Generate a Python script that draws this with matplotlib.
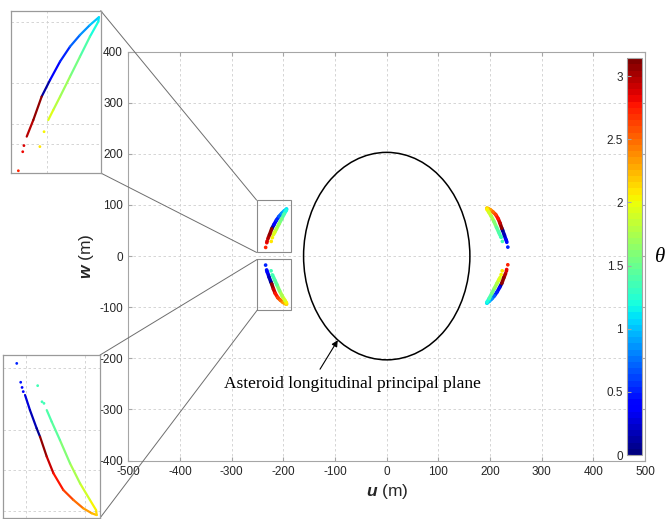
import numpy as np
import matplotlib
matplotlib.use('Agg')
import matplotlib.pyplot as plt
from matplotlib.collections import LineCollection
from matplotlib.patches import Ellipse, Rectangle, ConnectionPatch
from matplotlib.colors import Normalize
from matplotlib.colorbar import ColorbarBase

plt.rcParams['font.family'] = ['Liberation Sans', 'DejaVu Sans']
plt.rcParams['mathtext.fontset'] = 'custom'
plt.rcParams['mathtext.bf'] = 'Liberation Sans:style=italic:weight=bold'
plt.rcParams['axes.unicode_minus'] = False

# ---------------- data ----------------
X_TICKS = [-500, -400, -300, -200, -100, 0, 100, 200, 300, 400, 500]
Y_TICKS = [-400, -300, -200, -100, 0, 100, 200, 300, 400]
CB_TICKS = [0, 0.5, 1, 1.5, 2, 2.5, 3]
CB_TICK_LABELS = ['0', '0.5', '1', '1.5', '2', '2.5', '3']
THETA_MAX = np.pi

# asteroid principal plane ellipse (semi-axes, m)
AST_A = 161
AST_B = 203

# upper-left arc
UL1_U = [-222.7, -218.5, -213.5, -208.5, -203.5, -198.5, -194.0, -194.3, -198.5, -203.5, -208.5, -213.5, -216.9, -219.4]
UL1_W = [53.3, 61.4, 70.4, 77.7, 83.4, 88.3, 92.1, 89.9, 82.6, 72.8, 63.0, 53.2, 46.7, 41.8]
UL1_T = [0.02, 0.25, 0.45, 0.62, 0.78, 0.92, 1.05, 1.15, 1.30, 1.45, 1.60, 1.75, 1.88, 2.00]
UL2_U = [-230.2, -226.9, -222.7]
UL2_W = [33.7, 41.8, 53.3]
UL2_T = [2.90, 3.02, 3.14]
UL_DOT_U = [-234.4, -232.2, -231.6, -221.5, -223.6]
UL_DOT_W = [17.0, 26.3, 29.3, 36.1, 28.8]
UL_DOT_T = [2.70, 2.80, 2.85, 2.05, 2.10]

# lower-left arc
LL1_U = [-230.3, -227.8, -224.4, -222.7]
LL1_W = [-33.5, -41.1, -50.3, -54.5]
LL1_T = [0.35, 0.22, 0.10, 0.02]
LL2_U = [-222.7, -219.3, -215.9, -210.9, -205.8, -200.8, -196.5, -194.0, -194.3, -197.4, -202.4, -207.5, -212.6, -216.8, -219.3]
LL2_W = [-54.5, -64.5, -72.9, -81.3, -86.3, -90.5, -93.0, -93.9, -91.4, -86.3, -78.0, -67.9, -56.2, -46.9, -41.1]
LL2_T = [3.14, 3.00, 2.85, 2.70, 2.55, 2.40, 2.30, 2.20, 2.10, 1.95, 1.80, 1.65, 1.50, 1.42, 1.38]
LL_DOT_U = [-234.5, -232.5, -231.8, -231.2, -220.7, -221.7, -223.9]
LL_DOT_W = [-17.6, -27.1, -29.7, -31.8, -37.7, -36.9, -28.8]
LL_DOT_T = [0.50, 0.45, 0.42, 0.40, 1.36, 1.35, 1.33]

# upper-right arc
UR1_U = [230.3, 227.8, 224.4, 222.7]
UR1_W = [33.5, 41.1, 50.3, 54.5]
UR1_T = [0.35, 0.22, 0.10, 0.02]
UR2_U = [222.7, 219.3, 215.9, 210.9, 205.8, 200.8, 196.5, 194.0, 194.3, 197.4, 202.4, 207.5, 212.6, 216.8, 219.3]
UR2_W = [54.5, 64.5, 72.9, 81.3, 86.3, 90.5, 93.0, 93.9, 91.4, 86.3, 78.0, 67.9, 56.2, 46.9, 41.1]
UR2_T = [3.14, 3.00, 2.85, 2.70, 2.55, 2.40, 2.30, 2.20, 2.10, 1.95, 1.80, 1.65, 1.50, 1.42, 1.38]
UR_DOT_U = [234.5, 232.5, 231.8, 231.2, 220.7, 221.7, 223.9]
UR_DOT_W = [17.6, 27.1, 29.7, 31.8, 37.7, 36.9, 28.8]
UR_DOT_T = [0.50, 0.45, 0.42, 0.40, 1.36, 1.35, 1.33]

# lower-right arc
LR1_U = [222.7, 218.5, 213.5, 208.5, 203.5, 198.5, 194.0, 194.3, 198.5, 203.5, 208.5, 213.5, 216.9, 219.4]
LR1_W = [-53.3, -61.4, -70.4, -77.7, -83.4, -88.3, -92.1, -89.9, -82.6, -72.8, -63.0, -53.2, -46.7, -41.8]
LR1_T = [0.02, 0.25, 0.45, 0.62, 0.78, 0.92, 1.05, 1.15, 1.30, 1.45, 1.60, 1.75, 1.88, 2.00]
LR2_U = [230.2, 226.9, 222.7]
LR2_W = [-33.7, -41.8, -53.3]
LR2_T = [2.90, 3.02, 3.14]
LR_DOT_U = [234.4, 232.2, 231.6, 221.5, 223.6]
LR_DOT_W = [-17.0, -26.3, -29.3, -36.1, -28.8]
LR_DOT_T = [2.70, 2.80, 2.85, 2.05, 2.10]

# zoom windows (main-plot rectangles) and inset views
RECT_UP = (-252.0, 7.2, -186.0, 109.6)
RECT_LO = (-250.7, -105.7, -186.0, -6.5)
INS_UP_XLIM = (-238.1, -193.1)
INS_UP_YLIM = (15.9, 95.3)
INS_UP_XGRID = [-220]
INS_UP_YGRID = [30, 40, 60, 90]
INS_LO_XLIM = (-241.3, -192.3)
INS_LO_YLIM = (-95.4, -13.4)
INS_LO_XGRID = [-230, -200]
INS_LO_YGRID = [-92, -71, -51, -20]

ANNOT_TEXT = 'Asteroid longitudinal principal plane'

# ---------------- drawing ----------------
CMAP = plt.get_cmap('jet', 64)
NORM = Normalize(0, THETA_MAX)
GRID_C = '#cfcfcf'
FRAME_C = '#a6a6a6'

def draw_path(ax, u, w, t, lw):
    pts = np.column_stack([u, w])
    segs = np.stack([pts[:-1], pts[1:]], axis=1)
    t = np.asarray(t)
    tm = (t[:-1] + t[1:]) / 2
    lc = LineCollection(segs, colors=CMAP(NORM(tm)), linewidths=lw,
                        capstyle='round', joinstyle='round', zorder=3)
    ax.add_collection(lc)

def draw_dots(ax, u, w, t, s):
    ax.scatter(u, w, c=t, cmap=CMAP, norm=NORM, s=s, linewidths=0, zorder=3)

ARCS = [
    ((UL1_U, UL1_W, UL1_T), (UL2_U, UL2_W, UL2_T), (UL_DOT_U, UL_DOT_W, UL_DOT_T)),
    ((LL1_U, LL1_W, LL1_T), (LL2_U, LL2_W, LL2_T), (LL_DOT_U, LL_DOT_W, LL_DOT_T)),
    ((UR1_U, UR1_W, UR1_T), (UR2_U, UR2_W, UR2_T), (UR_DOT_U, UR_DOT_W, UR_DOT_T)),
    ((LR1_U, LR1_W, LR1_T), (LR2_U, LR2_W, LR2_T), (LR_DOT_U, LR_DOT_W, LR_DOT_T)),
]

def draw_arcs(ax, lw, s, which=None):
    for i, (p1, p2, d) in enumerate(ARCS):
        if which is not None and i not in which:
            continue
        draw_path(ax, *p1, lw)
        draw_path(ax, *p2, lw)
        draw_dots(ax, *d, s)

fig = plt.figure(figsize=(6.65, 5.19), dpi=100)

ax = fig.add_axes([0.1932, 0.1127, 0.7767, 0.7877])
ax.set_xlim(X_TICKS[0], X_TICKS[-1])
ax.set_ylim(Y_TICKS[0], Y_TICKS[-1])
ax.set_xticks(X_TICKS)
ax.set_yticks(Y_TICKS)
ax.grid(True, ls=(0, (3, 3)), color=GRID_C, lw=0.6)
ax.set_axisbelow(True)
for sp in ax.spines.values():
    sp.set_color(FRAME_C)
    sp.set_linewidth(0.8)
ax.tick_params(direction='in', length=3, color=FRAME_C, labelsize=8.5,
               labelcolor='#262626', top=True, right=True, pad=4)

ax.add_patch(Ellipse((0, 0), 2 * AST_A, 2 * AST_B, fill=False, ec='k', lw=1.1, zorder=2))
draw_arcs(ax, 2.6, 7)

for (x0, y0, x1, y1) in (RECT_UP, RECT_LO):
    ax.add_patch(Rectangle((x0, y0), x1 - x0, y1 - y0, fill=False, ec='#8a8a8a', lw=0.8, zorder=2))

ax.annotate('', xy=(-92, -160), xytext=(-132, -226),
            arrowprops=dict(arrowstyle='-|>', color='k', lw=0.8, mutation_scale=9))
ax.text(-67, -250, ANNOT_TEXT, family='Liberation Serif', fontsize=12.5,
        ha='center', va='center', color='k')

ax.set_xlabel(r'$\mathbf{u}$ (m)', fontsize=12.5, labelpad=3, color='#262626')
ax.set_ylabel(r'$\mathbf{w}$ (m)', fontsize=12.5, labelpad=2, color='#262626')

# colorbar
cax = fig.add_axes([0.9433, 0.1233, 0.0217, 0.7644])
cax.patch.set_alpha(0)
cb = ColorbarBase(cax, cmap=CMAP, norm=NORM, ticks=CB_TICKS)
cb.set_ticklabels(CB_TICK_LABELS)
cax.yaxis.set_ticks_position('left')
cax.tick_params(direction='in', length=3, color=FRAME_C, labelsize=8.5, labelcolor='#262626', pad=3)
cb.outline.set_edgecolor(FRAME_C)
cb.outline.set_linewidth(0.8)
fig.text(660 / 665, 1 - 258 / 519, 'θ', family='Liberation Serif', style='italic',
         fontsize=15, ha='center', va='center')

# insets
def make_inset(rect, xlim, ylim, xg, yg, which):
    a = fig.add_axes(rect)
    a.set_xlim(*xlim)
    a.set_ylim(*ylim)
    a.set_xticks(xg)
    a.set_yticks(yg)
    a.tick_params(length=0, labelbottom=False, labelleft=False)
    a.grid(True, ls=(0, (3, 3)), color=GRID_C, lw=0.6)
    a.set_axisbelow(True)
    for sp in a.spines.values():
        sp.set_color('#9a9a9a')
        sp.set_linewidth(0.9)
    draw_arcs(a, 1.6, 4, which)
    a.set_zorder(5)
    return a

ins_up = make_inset([0.0165, 0.6667, 0.1349, 0.3127], INS_UP_XLIM, INS_UP_YLIM,
                    INS_UP_XGRID, INS_UP_YGRID, [0])
ins_lo = make_inset([0.005, 0.0019, 0.1454, 0.314], INS_LO_XLIM, INS_LO_YLIM,
                    INS_LO_XGRID, INS_LO_YGRID, [1])

def connect(ins, ins_xy, data_xy):
    con = ConnectionPatch(xyA=ins_xy, coordsA=ins.transAxes, xyB=data_xy, coordsB=ax.transData,
                          color='#6e6e6e', lw=0.7)
    fig.add_artist(con)

connect(ins_up, (1, 1), (RECT_UP[0], RECT_UP[3]))
connect(ins_up, (1, 0), (RECT_UP[0], RECT_UP[1]))
connect(ins_lo, (1, 1), (RECT_LO[0], RECT_LO[3]))
connect(ins_lo, (1, 0), (RECT_LO[0], RECT_LO[1]))

fig.savefig('out.png', dpi=100)
